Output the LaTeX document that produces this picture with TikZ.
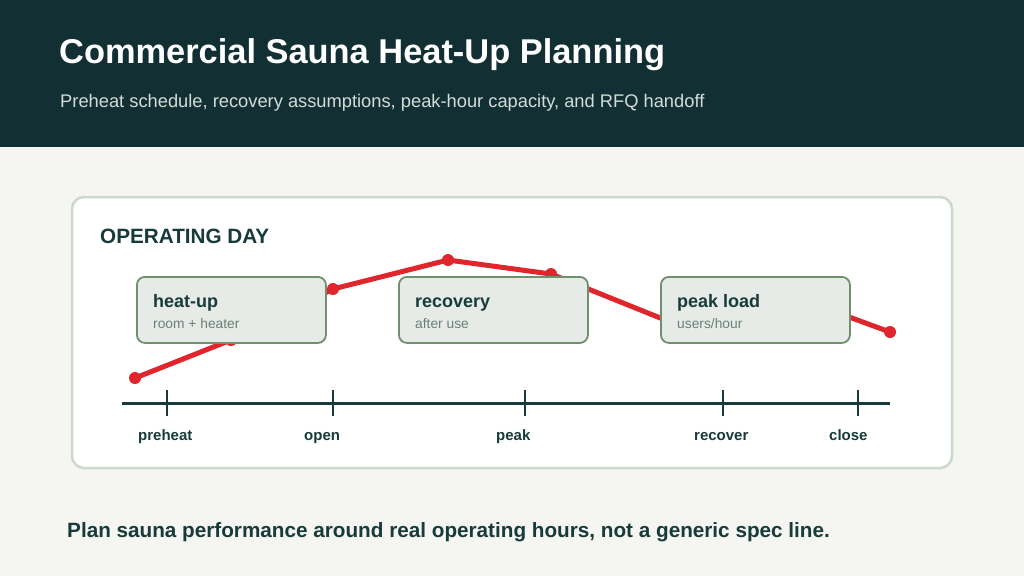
\documentclass[tikz,border=0pt]{standalone}
\usepackage{fontspec}
\setmainfont{Liberation Sans}
\definecolor{hdr}{HTML}{123033}
\definecolor{bg}{HTML}{F5F5F1}
\definecolor{cardb}{HTML}{CBD8D1}
\definecolor{ink}{HTML}{173A3A}
\definecolor{redl}{HTML}{E0252D}
\definecolor{boxf}{HTML}{E6EBE7}
\definecolor{boxb}{HTML}{6F8F6F}
\definecolor{subg}{HTML}{6B7F78}
\definecolor{subw}{HTML}{D3DCD9}
\begin{document}
\begin{tikzpicture}[x=1pt,y=-1pt,
  phase/.style={draw=boxb,line width=1.8pt,fill=boxf,rounded corners=8pt,minimum width=189pt,minimum height=66pt,anchor=north west},
  ptitle/.style={anchor=base west,text=ink,font=\bfseries\fontsize{18}{20}\selectfont,inner sep=0pt},
  psub/.style={anchor=base west,text=subg,font=\fontsize{13.8}{15}\selectfont,inner sep=0pt},
  dot/.style={circle,fill=redl,inner sep=0pt,minimum size=12pt},
  tick/.style={draw=ink,line width=2.3pt},
  tlabel/.style={anchor=base west,text=ink,font=\bfseries\fontsize{15}{17}\selectfont,inner sep=0pt}]
\useasboundingbox (0,0) rectangle (1024,576);
\fill[bg] (0,0) rectangle (1024,576);
\fill[hdr] (0,0) rectangle (1024,147);
\node[anchor=base west,text=white,font=\bfseries\fontsize{34.4}{38}\selectfont,inner sep=0pt] (title) at (59,63) {Commercial Sauna Heat-Up Planning};
\node[anchor=base west,text=subw,font=\fontsize{18.3}{21}\selectfont,inner sep=0pt] (subtitle) at (60,107) {Preheat schedule, recovery assumptions, peak-hour capacity, and RFQ handoff};
% card
\draw[cardb,line width=2.5pt,fill=white,rounded corners=12pt] (72,197) rectangle (952,468);
\node[anchor=base west,text=ink,font=\bfseries\fontsize{20.7}{24}\selectfont,inner sep=0pt] (opday) at (100,243) {OPERATING DAY};
% curve
\coordinate (p1) at (135,378);
\coordinate (p2) at (231,340);
\coordinate (p3) at (333,289);
\coordinate (p4) at (448,260);
\coordinate (p5) at (551,274);
\coordinate (p6) at (705,336);
\coordinate (p7) at (800,299);
\coordinate (p8) at (890,332);
\draw[redl,line width=5pt,line join=round] (p1) -- (p2) -- (p3) -- (p4) -- (p5) -- (p6) -- (p7) -- (p8);
\foreach \p in {p1,p2,p3,p4,p5,p6,p7,p8} \node[dot] at (\p) {};
% phase boxes
\node[phase] (heat) at (136,276) {};
\node[ptitle] at (153,307) {heat-up};
\node[psub] at (153,328) {room + heater};
\node[phase] (rec) at (398,276) {};
\node[ptitle] at (415,307) {recovery};
\node[psub] at (415,328) {after use};
\node[phase] (peakl) at (660,276) {};
\node[ptitle] at (677,307) {peak load};
\node[psub] at (677,328) {users/hour};
% axis
\coordinate (a0) at (122,403);
\coordinate (a1) at (890,403);
\draw[ink,line width=3pt] (a0) -- (a1);
\foreach \x/\n/\l in {167/t1/preheat,333/t2/open,525/t3/peak,723/t4/recover,858/t5/close}{
  \coordinate (\n) at (\x,403);
  \draw[tick] ([yshift=-13pt]\n) -- ([yshift=13pt]\n);
  \node[tlabel] at (\x-29,440) {\l};
}
\node[anchor=base west,text=ink,font=\bfseries\fontsize{20.7}{24}\selectfont,inner sep=0pt] (foot) at (67,537) {Plan sauna performance around real operating hours, not a generic spec line.};
\end{tikzpicture}
\end{document}
